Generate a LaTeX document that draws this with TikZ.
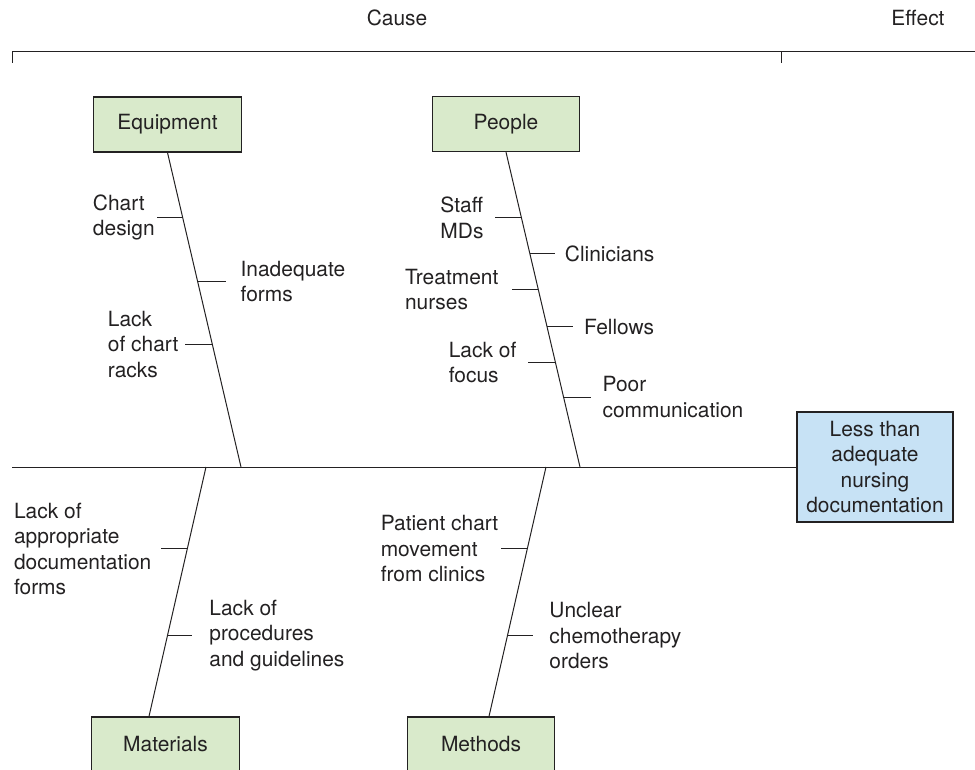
\documentclass[tikz,border=0pt]{standalone}
\usepackage{fontspec}
\setmainfont{TeX Gyre Heros}
\usetikzlibrary{calc}
\definecolor{boxgreen}{RGB}{217,234,203}
\definecolor{boxblue}{RGB}{199,226,245}
\definecolor{inkgray}{RGB}{35,33,34}
\tikzset{
    catbox/.style={draw=inkgray,fill=boxgreen,line width=0.9pt,minimum width=110.5pt,minimum height=41.25pt,inner sep=0pt},
    effbox/.style={draw=inkgray,fill=boxblue,line width=0.9pt,minimum width=117pt,minimum height=82.5pt,align=center,inner sep=0pt},
    lbl/.style={align=left,inner sep=0pt,outer xsep=7.5pt},
}
\begin{document}
\begin{tikzpicture}[x=0.75pt,y=-0.75pt,line width=0.75pt,draw=inkgray,text=inkgray,font=\fontsize{15.7pt}{19.1pt}\selectfont]
        \useasboundingbox (0,0) rectangle (975,770);
        \node[] (cause) at (397,18) {Cause};
        \node[] (effect) at (918,18) {Effect};
        \draw (12,63) -- (12,52) -- (975,52);
        \draw (781,52) -- (781,63);
        \node[effbox] (ef) at (875,467) {Less than\\adequate\\nursing\\documentation};
        \coordinate (spinestart) at (12,467);
        \draw (spinestart) -- (ef.west);
        \node[catbox] (eq) at (167.5,124.5) {Equipment};
        \node[catbox] (pe) at (506,124) {People};
        \node[catbox] (ma) at (165.5,744.5) {Materials};
        \node[catbox] (me) at (481,744.5) {Methods};
        \coordinate (eqj) at (241,467);
        \coordinate (pej) at (580,467);
        \coordinate (maj) at (206,467);
        \coordinate (mej) at (546,467);
        \coordinate (mab) at ($(ma.north)+(-16.5,0)$);
        \coordinate (meb) at ($(me.north)+(8,0)$);
        \draw (eq.south) -- (eqj);
        \draw (pe.south) -- (pej);
        \draw (maj) -- (mab);
        \draw (mej) -- (meb);
        \coordinate (e1) at ($(eq.south)!0.206!(eqj)$);
        \coordinate (e2) at ($(eq.south)!0.410!(eqj)$);
        \coordinate (e3) at ($(eq.south)!0.610!(eqj)$);
        \node[lbl,anchor=east,outer xsep=1.5pt] (chartdesign) at ($(e1)+(-26,0)$) {Chart\\design};
        \node[lbl,anchor=west,outer xsep=11.25pt] (inadequate) at ($(e2)+(28,0)$) {Inadequate\\forms};
        \node[lbl,anchor=east,outer xsep=5.25pt] (racks) at ($(e3)+(-27,0)$) {Lack\\of chart\\racks};
        \draw (e1) -- (chartdesign.east);
        \draw (e2) -- (inadequate.west);
        \draw (e3) -- (racks.east);
        \coordinate (p1) at ($(pe.south)!0.209!(pej)$);
        \coordinate (p2) at ($(pe.south)!0.323!(pej)$);
        \coordinate (p3) at ($(pe.south)!0.437!(pej)$);
        \coordinate (p4) at ($(pe.south)!0.554!(pej)$);
        \coordinate (p5) at ($(pe.south)!0.668!(pej)$);
        \coordinate (p6) at ($(pe.south)!0.778!(pej)$);
        \node[lbl,anchor=east,outer xsep=9pt] (staff) at ($(p1)+(-26,0)$) {Staff\\MDs};
        \node[lbl,anchor=west] (clinicians) at ($(p2)+(25,0)$) {Clinicians};
        \node[lbl,anchor=east,outer xsep=10.5pt] (treatment) at ($(p3)+(-26,0)$) {Treatment\\nurses};
        \node[lbl,anchor=west,outer xsep=8.25pt] (fellows) at ($(p4)+(26,0)$) {Fellows};
        \node[lbl,anchor=east,outer xsep=9pt] (focus) at ($(p5)+(-27,0)$) {Lack of\\focus};
        \node[lbl,anchor=west,outer xsep=9pt] (communication) at ($(p6)+(27,0)$) {Poor\\communication};
        \draw (p1) -- (staff.east);
        \draw (p2) -- (clinicians.west);
        \draw (p3) -- (treatment.east);
        \draw (p4) -- (fellows.west);
        \draw (p5) -- (focus.east);
        \draw (p6) -- (communication.west);
        \coordinate (m1) at ($(maj)!0.328!(mab)$);
        \coordinate (m2) at ($(maj)!0.676!(mab)$);
        \node[lbl,anchor=east] (appropriate) at ($(m1)+(-26,0)$) {Lack of\\appropriate\\documentation\\forms};
        \node[lbl,anchor=west,outer xsep=12.75pt] (procedures) at ($(m2)+(25,0)$) {Lack of\\procedures\\and guidelines};
        \draw (m1) -- (appropriate.east);
        \draw (m2) -- (procedures.west);
        \coordinate (d1) at ($(mej)!0.328!(meb)$);
        \coordinate (d2) at ($(mej)!0.676!(meb)$);
        \node[lbl,anchor=east,outer xsep=2.25pt] (movement) at ($(d1)+(-26,0)$) {Patient chart\\movement\\from clinics};
        \node[lbl,anchor=west,outer xsep=12pt] (unclear) at ($(d2)+(26,0)$) {Unclear\\chemotherapy\\orders};
        \draw (d1) -- (movement.east);
        \draw (d2) -- (unclear.west);
\end{tikzpicture}
\end{document}
